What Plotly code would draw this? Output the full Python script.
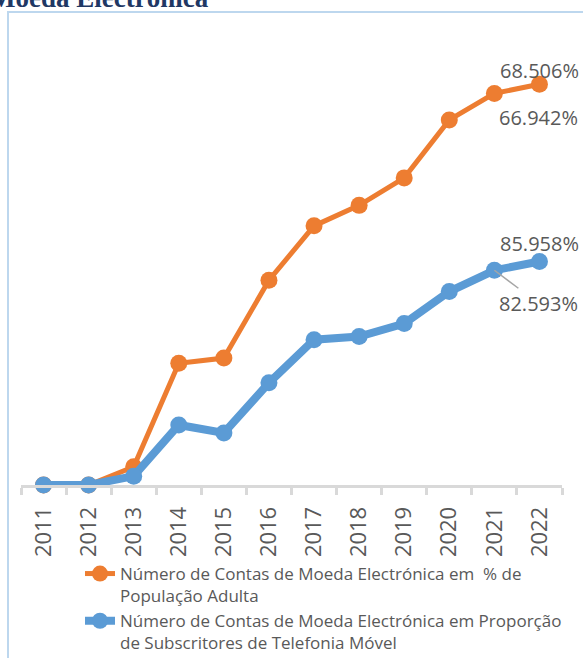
import plotly.graph_objects as go

years = ["2011", "2012", "2013", "2014", "2015", "2016",
         "2017", "2018", "2019", "2020", "2021", "2022"]

# % of adult population
adult_pct = [0.0, 0.0, 3.1, 20.8, 21.7, 35.0, 44.3, 47.8, 52.5, 62.4, 66.942, 68.506]
# proportion of mobile subscribers
mobile_pct = [0.0, 0.0, 3.4, 23.1, 20.0, 39.3, 55.9, 57.1, 62.1, 74.4, 82.593, 85.958]

adult_name = "Número de Contas de Moeda Electrónica em  % de<br>População Adulta"
mobile_name = "Número de Contas de Moeda Electrónica em Proporção<br>de Subscritores de Telefonia Móvel"

ORANGE = "#ED7D31"
BLUE = "#5B9BD5"
GREY_TXT = "#595959"

W, H = 583, 658
M_L, M_R, M_T, M_B = 21, 21, 17, 173
plot_h = H - M_T - M_B
plot_w = W - M_L - M_R


def px_x(px):
    return (px - M_L) / plot_w


def px_y(py):
    return (H - M_B - py) / plot_h


fig = go.Figure()

fig.add_trace(go.Scatter(
    x=years, y=adult_pct, name=adult_name, mode="lines+markers",
    line=dict(color=ORANGE, width=5), marker=dict(color=ORANGE, size=17),
    cliponaxis=False, yaxis="y",
))
fig.add_trace(go.Scatter(
    x=years, y=mobile_pct, name=mobile_name, mode="lines+markers",
    line=dict(color=BLUE, width=8), marker=dict(color=BLUE, size=17),
    cliponaxis=False, yaxis="y2",
))

hidden_y = dict(showgrid=False, zeroline=False, showline=False, ticks="",
                showticklabels=False, fixedrange=True)

fig.update_layout(
    width=W, height=H,
    margin=dict(l=M_L, r=M_R, t=M_T, b=M_B, autoexpand=False),
    paper_bgcolor="white", plot_bgcolor="white",
    showlegend=True,
    legend=dict(
        x=px_x(80), y=px_y(556), xanchor="left", yanchor="top",
        font=dict(family="Open Sans", size=17, color=GREY_TXT),
        valign="top", tracegroupgap=0, bgcolor="rgba(0,0,0,0)",
    ),
    xaxis=dict(
        type="category", range=[-0.5, 11.5],
        showline=True, linecolor="#D9D9D9", linewidth=3,
        ticks="outside", tickson="boundaries", ticklen=7,
        tickcolor="#D9D9D9", tickwidth=3, ticklabelstandoff=10,
        tickangle=-90, tickfont=dict(family="Open Sans", size=22, color=GREY_TXT),
        showgrid=False, zeroline=False, fixedrange=True,
    ),
    yaxis=dict(range=[0, 80], **hidden_y),
    yaxis2=dict(range=[0, 180], overlaying="y", side="right", **hidden_y),
    shapes=[dict(type="rect", xref="paper", yref="paper",
                 x0=px_x(8), x1=px_x(W + 20), y0=px_y(H + 20), y1=px_y(12),
                 line=dict(color="#BDD7EE", width=2), fillcolor="rgba(0,0,0,0)",
                 layer="below")],
)

# data labels for the last two years
last, prev = len(years) - 1, len(years) - 2
fig.add_annotation(x=last, y=adult_pct[last], xref="x", yref="y",
                   text=f"{adult_pct[last]:.3f}%", showarrow=False, yshift=14)
fig.add_annotation(x=prev, y=adult_pct[prev], xref="x", yref="y",
                   text=f"{adult_pct[prev]:.3f}%", showarrow=False,
                   xshift=44, yshift=-24)
fig.add_annotation(x=last, y=mobile_pct[last], xref="x", yref="y2",
                   text=f"{mobile_pct[last]:.3f}%", showarrow=False, yshift=18)
fig.add_annotation(x=prev, y=mobile_pct[prev], xref="x", yref="y2",
                   text=f"{mobile_pct[prev]:.3f}%", showarrow=True,
                   arrowhead=0, arrowwidth=1.5, arrowcolor="#A6A6A6",
                   ax=44, ay=33, standoff=0)
fig.update_annotations(font=dict(family="Open Sans", size=20, color=GREY_TXT))

# cut-off title of the page above the chart
fig.add_annotation(xref="paper", yref="paper", x=px_x(-12), y=px_y(15),
                   xanchor="left", yanchor="bottom", showarrow=False,
                   text="<b>Moeda Electrónica</b>",
                   font=dict(family="Liberation Serif", size=27, color="#1F3864"))

fig.write_html("out.html", config={"displayModeBar": False},
               post_script="document.body.style.margin='0';")
